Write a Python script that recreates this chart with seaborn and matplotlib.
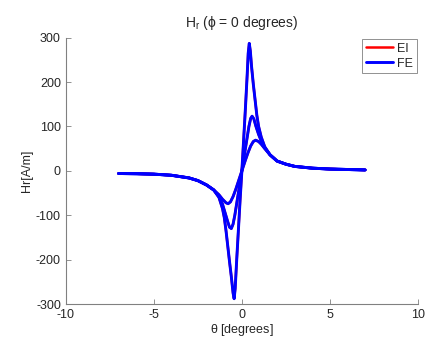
import numpy as np
import pandas as pd
import seaborn as sns
import matplotlib
matplotlib.use('Agg')
import matplotlib.pyplot as plt

# theta [degrees] / Hr [A/m] (three curves per model)
theta_1 = [-7, -6, -5, -4, -3, -2.5, -2, -1.6, -1.3, -1.1, -1.0, -0.9, -0.8, -0.7, -0.6, -0.5,
           -0.44, -0.38, -0.3, -0.2, -0.1, 0, 0.1, 0.2, 0.3, 0.36, 0.42, 0.48, 0.55, 0.65, 0.75,
           0.85, 0.95, 1.1, 1.3, 1.6, 2.0, 2.5, 3.0, 4.0, 5.0, 6.0, 7.0]
hr_1 = [-6, -6.5, -7.5, -10, -16, -22, -32, -43, -60, -85, -105, -135, -170, -205, -238, -275,
        -288, -265, -205, -135, -65, 0, 70, 140, 215, 265, 287, 270, 235, 195, 160,
        125, 100, 76, 54, 36, 22, 15, 10, 6, 4, 3, 2]

theta_2 = [-7, -6, -5, -4, -3, -2.5, -2, -1.6, -1.3, -1.1, -0.95, -0.8, -0.7, -0.6, -0.5, -0.4,
           -0.3, -0.2, -0.1, 0, 0.1, 0.2, 0.3, 0.4, 0.5, 0.58, 0.68, 0.8, 0.95, 1.1, 1.3, 1.6,
           2.0, 2.5, 3.0, 4.0, 5.0, 6.0, 7.0]
hr_2 = [-6, -6.5, -7.5, -10, -16, -22, -32, -43, -58, -75, -95, -115, -127, -130, -120, -100,
        -75, -50, -25, 0, 25, 50, 75, 100, 118, 123, 117, 100, 82, 67, 52, 36,
        22, 15, 10, 6, 4, 3, 2]

theta_3 = [-7, -6, -5, -4, -3, -2.5, -2, -1.6, -1.3, -1.1, -0.9, -0.78, -0.65, -0.5, -0.35, -0.2,
           -0.1, 0, 0.1, 0.2, 0.35, 0.5, 0.65, 0.78, 0.95, 1.1, 1.3, 1.6, 2.0, 2.5, 3.0, 4.0,
           5.0, 6.0, 7.0]
hr_3 = [-6, -6.5, -7.5, -10, -16, -22, -32, -43, -54, -64, -72, -74, -70, -58, -42, -24,
        -12, 0, 12, 24, 41, 56, 66, 69, 66, 60, 50, 36, 22, 15, 10, 6,
        4, 3, 2]

curves = [(theta_1, hr_1), (theta_2, hr_2), (theta_3, hr_3)]
models = ['EI', 'FE']
colors = {'EI': '#ff0000', 'FE': '#0000ff'}

rows = []
for model in models:
    for i, (t, h) in enumerate(curves):
        for a, b in zip(t, h):
            rows.append({'theta': a, 'Hr': b, 'model': model, 'curve': i})
df = pd.DataFrame(rows)

sns.set_style('white')
plt.rcParams['font.family'] = ['Liberation Sans', 'DejaVu Sans']
plt.rcParams['mathtext.fontset'] = 'custom'
plt.rcParams['mathtext.rm'] = 'Liberation Sans'
plt.rcParams['mathtext.it'] = 'Liberation Sans'
plt.rcParams['axes.unicode_minus'] = False

fig = plt.figure(figsize=(4.3, 3.42), dpi=100)
ax = fig.add_axes([0.153, 0.111, 0.819, 0.779])

widths = {'EI': 1.8, 'FE': 2.1}
for model in models:
    sub = df[df.model == model]
    for i in range(3):
        part = sub[sub.curve == i]
        sns.lineplot(data=part, x='theta', y='Hr', sort=False, estimator=None,
                     color=colors[model], linewidth=widths[model], ax=ax,
                     label=model if i == 0 else None)

ax.set_xlim(-10, 10)
ax.set_ylim(-300, 300)
ax.set_xticks([-10, -5, 0, 5, 10])
ax.set_yticks([-300, -200, -100, 0, 100, 200, 300])
ax.tick_params(direction='in', length=3.5, labelsize=9, colors='#262626', width=0.6,
               bottom=True, left=True)
ax.tick_params(color='#808080')
for s in ['top', 'right']:
    ax.spines[s].set_visible(False)
for s in ['left', 'bottom']:
    ax.spines[s].set_color('#808080')
    ax.spines[s].set_linewidth(0.8)

ax.set_xlabel(r'$\theta$ [degrees]', fontsize=9, labelpad=1)
ax.set_ylabel('Hr[A/m]', fontsize=9, labelpad=2)
ax.set_title(r'H$_\mathrm{r}$ ($\phi$ = 0 degrees)', fontsize=10, pad=8)

leg = ax.legend(loc='upper right', fontsize=9, handlelength=2.2, handletextpad=0.3,
                borderpad=0.3, labelspacing=0.25, fancybox=False, framealpha=1,
                borderaxespad=0.1)
leg.get_frame().set_edgecolor('#808080')
leg.get_frame().set_linewidth(0.6)

fig.savefig('out.png', dpi=100)
